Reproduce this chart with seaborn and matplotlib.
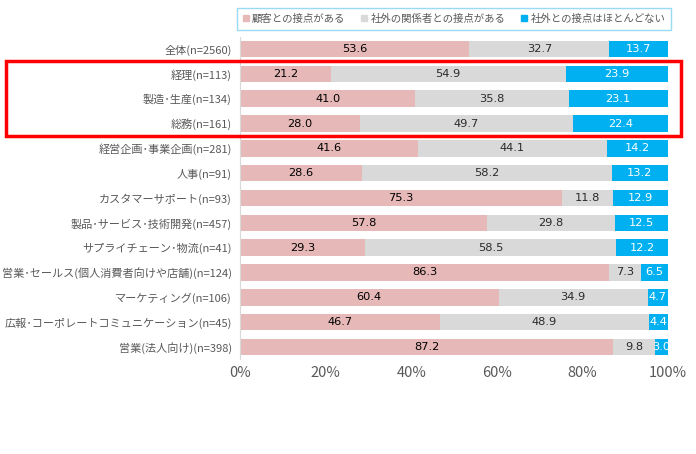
import matplotlib
matplotlib.use("Agg")
import matplotlib.pyplot as plt
import matplotlib.patches as patches
from matplotlib.lines import Line2D
import seaborn as sns
import pandas as pd
import numpy as np

categories = [
    "全体(n=2560)",
    "経理(n=113)",
    "製造･生産(n=134)",
    "総務(n=161)",
    "経営企画･事業企画(n=281)",
    "人事(n=91)",
    "カスタマーサポート(n=93)",
    "製品･サービス･技術開発(n=457)",
    "サプライチェーン･物流(n=41)",
    "営業･セールス(個人消費者向けや店舗)(n=124)",
    "マーケティング(n=106)",
    "広報･コーポレートコミュニケーション(n=45)",
    "営業(法人向け)(n=398)",
]
customer = [53.6, 21.2, 41.0, 28.0, 41.6, 28.6, 75.3, 57.8, 29.3, 86.3, 60.4, 46.7, 87.2]
others = [32.7, 54.9, 35.8, 49.7, 44.1, 58.2, 11.8, 29.8, 58.5, 7.3, 34.9, 48.9, 9.8]
none_ = [13.7, 23.9, 23.1, 22.4, 14.2, 13.2, 12.9, 12.5, 12.2, 6.5, 4.7, 4.4, 3.0]
series_names = ["顧客との接点がある", "社外の関係者との接点がある", "社外との接点はほとんどない"]
colors = ["#E6B9B8", "#D9D9D9", "#00B0F0"]

sns.set_theme(style="white")
plt.rcParams['font.family'] = ['Noto Sans CJK JP', 'DejaVu Sans']

df = pd.DataFrame({"cat": categories, "c": customer, "o": others, "n": none_})
df["s1"] = df["c"]
df["s2"] = df["c"] + df["o"]
df["s3"] = df["c"] + df["o"] + df["n"]

fig = plt.figure(figsize=(6.96, 4.54), dpi=100)
ax = fig.add_axes([240 / 696, 1 - 359.4 / 454, 428 / 696, (359.4 - 36.6) / 454])

bh = 0.665
for col, color in zip(["s3", "s2", "s1"], colors[::-1]):
    sns.barplot(data=df, x=col, y="cat", color=color, width=bh, orient="h",
                ax=ax, saturation=1, linewidth=0, order=categories)

# value labels centred in each segment
num_font = dict(ha="center", va="center", fontsize=8.2, family="DejaVu Sans", clip_on=True)
for i in range(len(categories)):
    c, o, n = customer[i], others[i], none_[i]
    ax.text(c / 2, i, f"{c:.1f}", color="#000000", **num_font)
    ax.text(c + o / 2, i, f"{o:.1f}", color="#2a2a2a", **num_font)
    ax.text(c + o + n / 2, i, f"{n:.1f}", color="white", **num_font)

ax.set_xlim(0, 100)
ax.set_ylim(len(categories) - 0.5, -0.5)
ax.set_xticks(np.arange(0, 101, 20))
ax.set_xticklabels([f"{v}%" for v in range(0, 101, 20)], fontsize=10.5, color="#595959")
ax.tick_params(axis="y", labelsize=8, colors="#595959", length=0, pad=6)
ax.tick_params(axis="x", length=0, pad=5)
ax.set_xlabel("")
ax.set_ylabel("")
for s in ["top", "right", "bottom"]:
    ax.spines[s].set_visible(False)
ax.spines["left"].set_color("#D9D9D9")
ax.spines["left"].set_linewidth(0.8)

handles = [Line2D([0], [0], marker="s", linestyle="", markersize=3.8,
                  markerfacecolor=c, markeredgecolor=c) for c in colors]
leg = fig.legend(handles, series_names, loc="center", ncol=3,
                 bbox_to_anchor=(454 / 696, 1 - 19 / 454), fontsize=7.5,
                 frameon=True, fancybox=False, handletextpad=0.3,
                 columnspacing=1.5, handlelength=0.6, borderpad=0.55,
                 borderaxespad=0)
leg.get_frame().set_edgecolor("#7FD3F2")
leg.get_frame().set_linewidth(1.0)
for t in leg.get_texts():
    t.set_color("#595959")

# highlight box around the three focus rows
rect = patches.Rectangle((6 / 696, 1 - 136 / 454), (681 - 6) / 696, (136 - 61) / 454,
                         transform=fig.transFigure, fill=False, edgecolor="#FF0000",
                         linewidth=2.5, zorder=10)
fig.patches.append(rect)

fig.savefig("out.png", dpi=100)
